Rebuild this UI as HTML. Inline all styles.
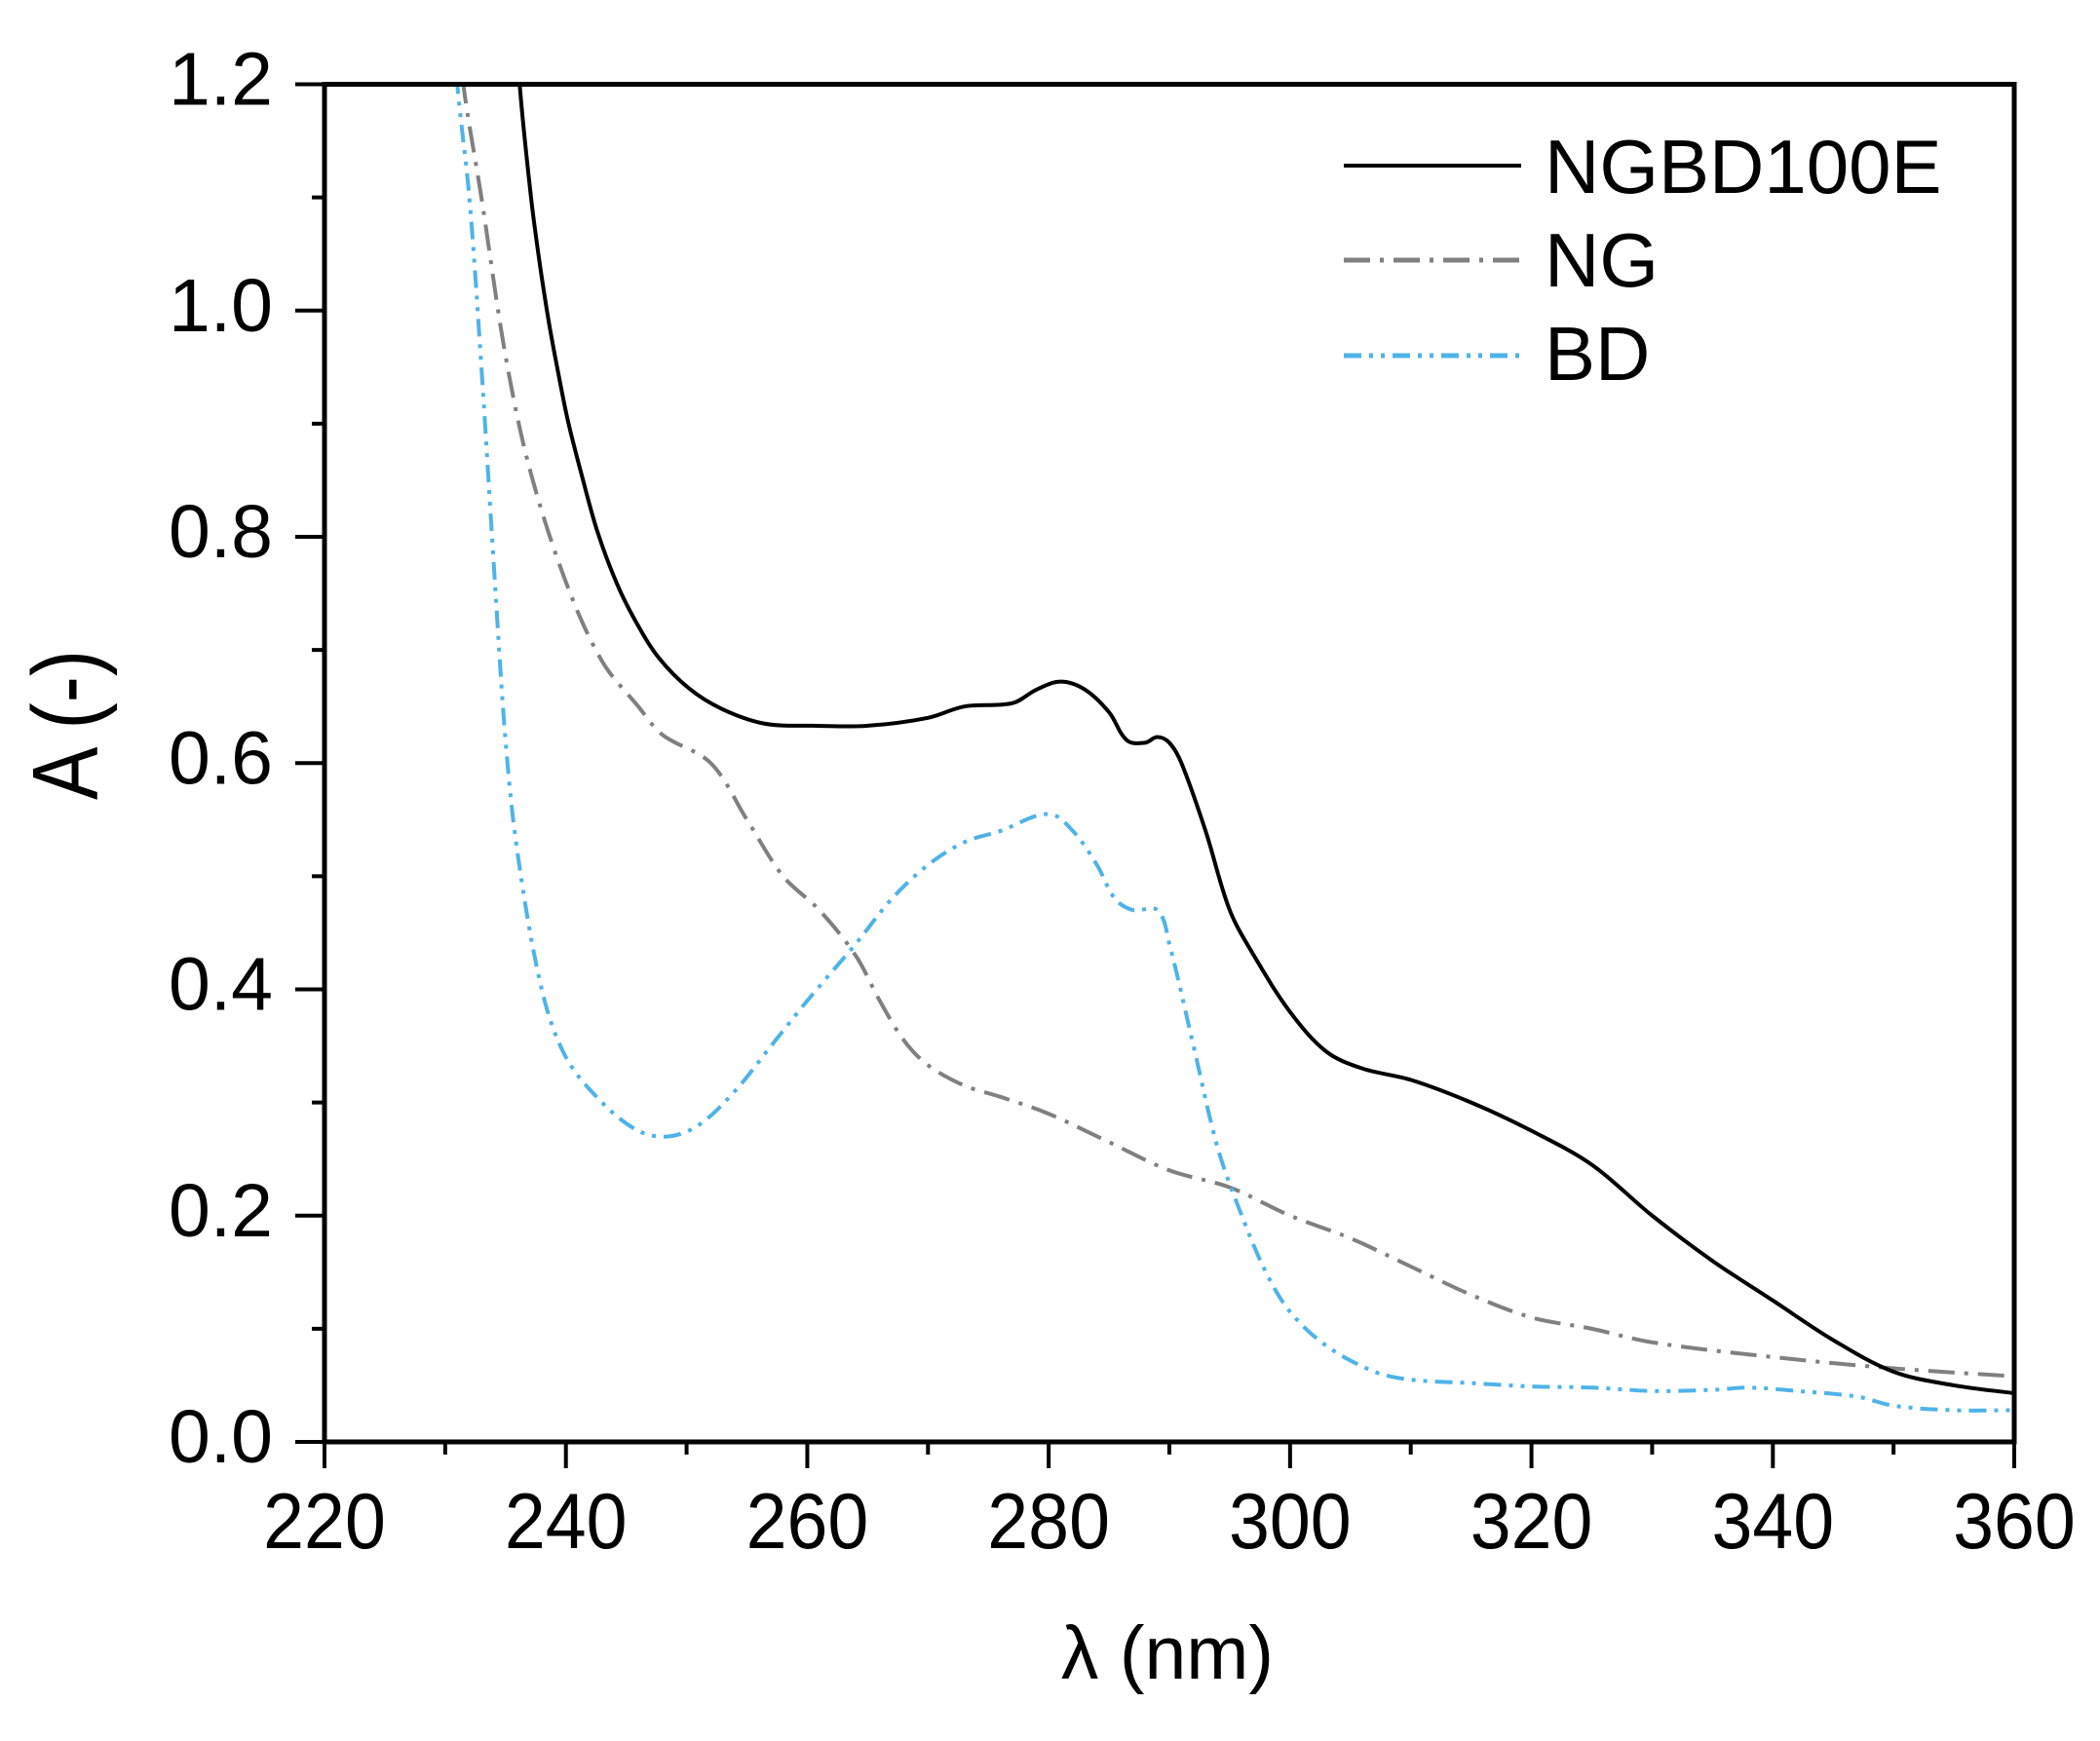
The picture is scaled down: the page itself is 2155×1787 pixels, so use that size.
<!DOCTYPE html>
<html><head><meta charset="utf-8"><style>html,body{margin:0;padding:0;background:#fff}svg{display:block}</style></head>
<body>
<svg id="s" width="2155" height="1787" viewBox="0 0 2155 1787" xmlns="http://www.w3.org/2000/svg" font-family="Liberation Sans, Arial, sans-serif">
<defs><clipPath id="c"><rect x="333" y="86" width="1734" height="1394"/></clipPath></defs>
<g id="ticks" stroke="#000" stroke-width="4"></g>
<g clip-path="url(#c)" fill="none" stroke-linejoin="round">
<path id="ng" stroke="#808080" stroke-width="4" stroke-dasharray="27 10 4 10"/>
<path id="bd" stroke="#4fb3e8" stroke-width="4" stroke-dasharray="18 8 4 8 4 8"/>
<path id="nb" stroke="#000" stroke-width="4"/>
</g>
<rect x="333" y="86.5" width="1734" height="1393.5" fill="none" stroke="#000" stroke-width="5"/>
<g id="lab" font-size="78" fill="#000"></g>
<line x1="1379" y1="170" x2="1561" y2="170" stroke="#000" stroke-width="4"/>
<line x1="1379" y1="267" x2="1561" y2="267" stroke="#808080" stroke-width="5" stroke-dasharray="27 10 4 10"/>
<line x1="1379" y1="365" x2="1561" y2="365" stroke="#4fb3e8" stroke-width="5" stroke-dasharray="18 8 4 8 4 8"/>
<g font-size="78" fill="#000">
<text x="1585" y="198">NGBD100E</text>
<text x="1585" y="294">NG</text>
<text x="1585" y="390">BD</text>
</g>
<text x="1198" y="1723" font-size="77" text-anchor="middle">λ (nm)</text>
<text transform="translate(100,744) rotate(-90) scale(0.85,1)" font-size="96" text-anchor="middle">A (-)</text>
</svg>
<script>
var X=function(n){return 333+(n-220)*1734/140},Y=function(a){return 1480-a*1393.5/1.2};
var t=document.getElementById('ticks'),l=document.getElementById('lab'),s='',L='';
for(var n=220;n<=360;n+=10){var x=X(n),maj=(n%20==0);s+='<line x1="'+x+'" y1="1480" x2="'+x+'" y2="'+(maj?1507:1493)+'"/>';
if(maj)L+='<text x="'+x+'" y="1589" font-size="81" text-anchor="middle" transform="translate('+x+',0) scale(0.93,1) translate('+(-x)+',0)">'+n+'</text>';}
for(var i=0;i<=12;i++){var a=i*0.1,y=Y(a),maj=(i%2==0);s+='<line x1="333" y1="'+y+'" x2="'+(maj?303:320)+'" y2="'+y+'"/>';
if(maj)L+='<text x="280" y="'+(y+21)+'" font-size="77" text-anchor="end">'+a.toFixed(1)+'</text>';}
t.innerHTML=s;l.innerHTML=L;
function P(d){var p=d.map(function(q){return[X(q[0]),Y(q[1])]});var o='M'+p[0][0]+','+p[0][1];
for(var i=0;i<p.length-1;i++){var p0=p[i-1]||p[i],p1=p[i],p2=p[i+1],p3=p[i+2]||p2;
var d1=Math.hypot(p2[0]-p1[0],p2[1]-p1[1]);
var a0=Math.hypot(p2[0]-p0[0],p2[1]-p0[1])||1,a1=Math.hypot(p3[0]-p1[0],p3[1]-p1[1])||1;
var k1=d1/a0/3,k2=d1/a1/3;
o+=' C'+(p1[0]+(p2[0]-p0[0])*k1)+','+(p1[1]+(p2[1]-p0[1])*k1)+' '+(p2[0]-(p3[0]-p1[0])*k2)+','+(p2[1]-(p3[1]-p1[1])*k2)+' '+p2[0]+','+p2[1];}return o;}
var nb=[[236.0,1.25],[236.17,1.2],[237.1,1.101],[237.8,1.044],[238.6,0.989],[239.4,0.943],[240.2,0.901],[241.3,0.855],[242.6,0.805],[244.25,0.758],[245.9,0.723],[247.7,0.693],[250.2,0.666],[252.9,0.648],[256.4,0.635],[260.4,0.633],[265,0.633],[270,0.64],[273,0.65],[277,0.653],[279,0.665],[281,0.672],[283,0.665],[285,0.645],[286.5,0.62],[288,0.618],[289,0.623],[290,0.618],[291,0.6],[293,0.54],[295,0.47],[297,0.43],[300,0.38],[303,0.345],[306,0.33],[310,0.32],[315,0.3],[320,0.275],[325,0.245],[330,0.2],[335,0.16],[340,0.125],[345,0.09],[350,0.062],[355,0.05],[360,0.043]];
var ng=[[231.2,1.25],[231.5,1.2],[233,1.1],[235,0.96],[237,0.86],[240,0.76],[243,0.69],[246,0.65],[248,0.625],[252,0.6],[255,0.55],[258,0.5],[261,0.47],[264,0.43],[266,0.39],[268,0.355],[270,0.333],[273,0.315],[276,0.305],[280,0.29],[285,0.265],[290,0.24],[295,0.225],[300,0.2],[305,0.18],[310,0.155],[315,0.13],[320,0.11],[325,0.1],[330,0.088],[340,0.075],[350,0.065],[360,0.058]];
var bd=[[230.8,1.25],[231,1.2],[232,1.1],[233,0.95],[234,0.78],[235,0.62],[236,0.52],[238,0.4],[240,0.34],[243,0.3],[246,0.275],[248.5,0.27],[251,0.28],[254,0.31],[257,0.35],[260,0.39],[264,0.44],[267,0.48],[270,0.51],[273,0.53],[276,0.54],[280,0.555],[282,0.54],[284,0.51],[285.5,0.48],[287,0.47],[289,0.47],[290,0.44],[292,0.35],[294,0.26],[296,0.2],[298,0.15],[300,0.115],[303,0.085],[307,0.062],[310,0.055],[315,0.052],[320,0.049],[325,0.048],[330,0.045],[335,0.046],[338,0.048],[342,0.045],[347,0.04],[350,0.032],[355,0.028],[360,0.028]];
document.getElementById('nb').setAttribute('d',P(nb));
document.getElementById('ng').setAttribute('d',P(ng));
document.getElementById('bd').setAttribute('d',P(bd));
</script>
</body></html>
